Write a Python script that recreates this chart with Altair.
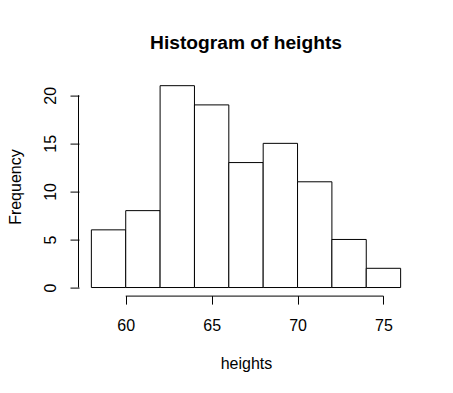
import altair as alt
import pandas as pd

# Histogram data
bin_start = [58, 60, 62, 64, 66, 68, 70, 72, 74]
bin_end = [60, 62, 64, 66, 68, 70, 72, 74, 76]
counts = [6, 8, 21, 19, 13, 15, 11, 5, 2]
x_ticks = [60, 65, 70, 75]
y_ticks = [0, 5, 10, 15, 20]

df = pd.DataFrame({"start": bin_start, "end": bin_end, "count": counts})
xaxis_df = pd.DataFrame({"a": [min(x_ticks)], "b": [max(x_ticks)]})
yaxis_df = pd.DataFrame({"a": [min(y_ticks)], "b": [max(y_ticks)]})

W, H = 334, 218
FONT = "Liberation Sans"

xscale = alt.Scale(domain=[57.28, 76.72], nice=False, zero=False)
yscale = alt.Scale(domain=[-0.84, 21.84], nice=False, zero=False)

bars = alt.Chart(df).mark_rect(fill="white", stroke="black", strokeWidth=1).encode(
    x=alt.X("start:Q", scale=xscale,
            axis=alt.Axis(values=x_ticks, domain=False, grid=False, tickColor="black",
                          tickWidth=1, tickSize=8.5, labelBaseline="alphabetic",
                          labelPadding=26, labelFont=FONT, labelFontSize=16,
                          labelColor="black", title="heights", titleFont=FONT,
                          titleFontSize=16, titleFontWeight="normal", titleColor="black",
                          titleBaseline="alphabetic", titleY=72.7, titleX=W / 2,
                          titleAlign="center")),
    x2="end:Q",
    y=alt.Y("count:Q", scale=yscale,
            axis=alt.Axis(values=y_ticks, domain=False, grid=False, tickColor="black",
                          tickWidth=1, tickSize=9, labelAngle=270, labelAlign="center",
                          labelBaseline="alphabetic", labelPadding=15, labelFont=FONT,
                          labelFontSize=16, labelColor="black", title="Frequency",
                          titleFont=FONT, titleFontSize=16, titleFontWeight="normal",
                          titleColor="black", titleAngle=270, titleBaseline="alphabetic",
                          titleAlign="center", titleX=-59, titleY=H / 2)),
    y2=alt.datum(0),
)

xline = alt.Chart(xaxis_df).mark_rule(color="black", strokeWidth=1).encode(
    x=alt.X("a:Q", scale=xscale), x2="b:Q", y=alt.value(H + 0.5)
)
yline = alt.Chart(yaxis_df).mark_rule(color="black", strokeWidth=1).encode(
    y=alt.Y("a:Q", scale=yscale), y2="b:Q", x=alt.value(-0.5)
)

chart = alt.layer(bars, xline, yline).properties(
    width=W,
    height=H,
    autosize=alt.AutoSizeParams(type="none"),
    padding={"left": 71, "top": 69.6, "right": 30, "bottom": 90},
    background="white",
    title=alt.TitleParams("Histogram of heights", font=FONT, fontSize=19.2,
                          fontWeight="bold", color="black", anchor="middle",
                          frame="group", baseline="alphabetic", offset=9),
).configure_view(stroke=None)

chart.save("out.html", embed_options={"renderer": "svg", "actions": False})
